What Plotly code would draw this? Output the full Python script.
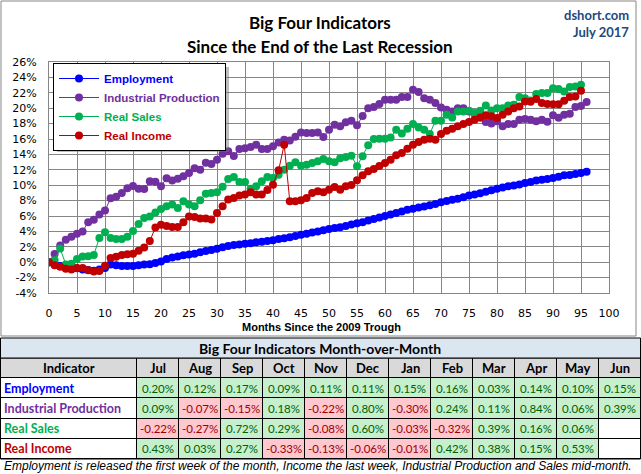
import plotly.graph_objects as go

W, H = 641, 474

# ---------------- data ----------------
employment = [
    0.0, -0.3, -0.5, -0.6, -0.7, -0.8, -0.95, -1.0, -1.1, -0.95,
    -0.75, -0.3, -0.4, -0.5, -0.5, -0.5, -0.4, -0.3, -0.25, -0.1,
    0.1, 0.4, 0.6, 0.75, 0.9, 1.0, 1.1, 1.3, 1.45, 1.6,
    1.75, 1.95, 2.1, 2.25, 2.3, 2.4, 2.45, 2.6, 2.65, 2.75,
    2.85, 3.0, 3.1, 3.25, 3.4, 3.55, 3.7, 3.85, 4.0, 4.15,
    4.3, 4.45, 4.55, 4.7, 4.9, 5.05, 5.2, 5.4, 5.6, 5.8,
    6.0, 6.2, 6.4, 6.6, 6.8, 6.95, 7.1, 7.25, 7.4, 7.55,
    7.8, 7.95, 8.1, 8.25, 8.45, 8.65, 8.8, 8.95, 9.15, 9.35,
    9.55, 9.7, 9.85, 9.95, 10.1, 10.3, 10.42, 10.6, 10.7, 10.82,
    10.95, 11.1, 11.28, 11.31, 11.46, 11.57, 11.74,
]
industrial_production = [
    0.0, 1.08, 2.16, 2.9, 3.3, 3.7, 4.0, 5.2, 5.5, 6.2,
    6.7, 8.3, 8.5, 9.0, 9.6, 9.9, 9.55, 9.5, 10.5, 10.45,
    9.86, 10.9, 10.6, 10.85, 11.15, 11.6, 12.2, 12.0, 12.9, 12.75,
    13.3, 14.1, 14.4, 13.8, 14.7, 14.8, 14.95, 15.25, 14.7, 14.7,
    15.05, 15.56, 15.9, 15.8, 16.3, 16.86, 16.77, 16.77, 16.86, 16.26,
    17.2, 17.86, 17.64, 18.16, 18.37, 17.77, 19.0, 20.0, 20.15, 20.55,
    21.1, 21.1, 21.1, 21.44, 21.44, 22.4, 22.1, 21.3, 21.1, 20.67,
    20.1, 19.8, 19.58, 20.0, 20.0, 19.58, 19.24, 18.8, 18.2, 18.0,
    18.3, 17.64, 17.94, 17.94, 18.5, 18.6, 18.5, 18.3, 18.5, 18.25,
    19.1, 18.75, 19.15, 19.27, 20.15, 20.3, 20.8,
]
real_sales = [
    0.0, 0.26, 1.77, -0.3, -0.2, 0.4, 0.75, 0.78, 0.95, 3.15,
    3.9, 3.15, 3.0, 3.0, 3.3, 4.05, 4.95, 5.75, 5.95, 6.45,
    6.9, 7.26, 7.5, 7.05, 7.9, 7.5, 7.26, 8.04, 8.9, 9.0,
    9.1, 9.8, 10.8, 11.07, 10.4, 10.4, 9.55, 9.86, 10.5, 11.07,
    10.94, 11.37, 12.02, 12.54, 12.97, 12.54, 12.67, 12.88, 13.1, 13.4,
    13.1, 12.97, 13.49, 13.66, 13.83, 12.45, 13.75, 15.2, 16.0, 16.04,
    16.04, 16.2, 17.2, 16.7, 17.34, 17.94, 17.5, 17.2, 16.65, 18.37,
    18.37, 19.15, 18.8, 19.58, 19.58, 19.67, 19.37, 19.67, 20.36, 19.7,
    20.0, 20.0, 20.36, 20.45, 21.44, 21.3, 21.0, 21.83, 21.96, 21.96,
    22.6, 22.5, 22.18, 22.74, 22.83, 23.04,
]
real_income = [
    0.0, -0.4, -0.6, -0.86, -0.95, -0.75, -0.75, -1.05, -1.2, -1.15,
    -0.45, 0.55, 0.7, 0.95, 1.04, 1.1, 1.5, 1.9, 2.75, 4.5,
    4.85, 4.7, 4.58, 4.58, 5.2, 5.95, 5.88, 5.66, 5.66, 5.53,
    6.4, 7.26, 8.13, 8.34, 8.65, 8.78, 9.08, 8.78, 8.78, 9.38,
    10.07, 11.93, 15.26, 7.91, 7.91, 8.04, 8.34, 9.0, 9.2, 9.08,
    9.42, 9.77, 9.42, 9.86, 10.03, 10.64, 11.28, 11.8, 12.1, 12.5,
    12.88, 13.3, 13.88, 14.18, 14.74, 15.26, 15.6, 15.9, 16.04, 15.9,
    16.65, 17.08, 17.34, 17.64, 17.94, 18.2, 18.5, 18.8, 19.1, 18.94,
    18.72, 19.15, 19.58, 20.0, 20.23, 20.88, 20.85, 21.2, 20.67, 20.54,
    20.5, 20.5, 20.97, 21.44, 21.53, 22.27,
]

series_names = ["Employment", "Industrial Production", "Real Sales", "Real Income"]
series_colors = ["#0000FF", "#7030A0", "#00B050", "#C00000"]
series_values = [employment, industrial_production, real_sales, real_income]

table_months = ["Jul", "Aug", "Sep", "Oct", "Nov", "Dec", "Jan", "Feb", "Mar", "Apr", "May", "Jun"]
mom_employment = [0.20, 0.12, 0.17, 0.09, 0.11, 0.11, 0.15, 0.16, 0.03, 0.14, 0.10, 0.15]
mom_ip = [0.09, -0.07, -0.15, 0.18, -0.22, 0.80, -0.30, 0.24, 0.11, 0.84, 0.06, 0.39]
mom_sales = [-0.22, -0.27, 0.72, 0.29, -0.08, 0.60, -0.03, -0.32, 0.39, 0.16, 0.06, None]
mom_income = [0.43, 0.03, 0.27, -0.33, -0.13, -0.06, -0.01, 0.42, 0.38, 0.15, 0.53, None]
mom_rows = [mom_employment, mom_ip, mom_sales, mom_income]

x_ticks = list(range(0, 101, 5))
y_ticks = list(range(-4, 27, 2))

# ---------------- layout helpers ----------------
def px_x(p):
    return p / W


def px_y(p):
    return 1 - p / H


FONT_TICK = "DejaVu Sans"
FONT_CAL = "Lato"
GRID = "#868686"
POS_FILL, NEG_FILL = "#C6EFCE", "#FFC7CE"
POS_FONT, NEG_FONT = "#006100", "#9C0006"
HEAD_FILL = "#D9D9D9"

fig = go.Figure()

for name, color, vals in zip(series_names, series_colors, series_values):
    fig.add_trace(go.Scatter(
        x=list(range(len(vals))), y=vals,
        mode="lines+markers",
        name=f"<span style='color:{color}'><b>{name}</b></span>",
        line=dict(color=color, width=1),
        marker=dict(color=color, size=8),
        xaxis="x", yaxis="y",
    ))

# ---------------- table as a heatmap on its own axes ----------------
col_widths = [137] + [42] * len(table_months)
x_edges = [0]
for w in col_widths:
    x_edges.append(x_edges[-1] + w)
n_rows = 1 + len(series_names)
y_edges = list(range(n_rows + 1))

# codes: 0 white, 1 positive, 2 negative, 3 header
z = [[3] * len(col_widths)]
for row in mom_rows:
    z.append([0] + [0 if v is None else (1 if v >= 0 else 2) for v in row])

fig.add_trace(go.Heatmap(
    x=x_edges, y=y_edges, z=z, zmin=0, zmax=3,
    colorscale=[[0, "white"], [1 / 6, "white"], [1 / 6, POS_FILL], [0.5, POS_FILL],
                [0.5, NEG_FILL], [5 / 6, NEG_FILL], [5 / 6, HEAD_FILL], [1, HEAD_FILL]],
    showscale=False, xgap=1, ygap=1, hoverinfo="skip",
    xaxis="x2", yaxis="y2",
))

annotations = []
centers = [(x_edges[j] + x_edges[j + 1]) / 2 for j in range(len(col_widths))]
# header row
annotations.append(dict(text="<b>Indicator</b>", x=centers[0], y=0.5, xref="x2", yref="y2",
                        showarrow=False, font=dict(family=FONT_CAL, size=13, color="black")))
for j, m in enumerate(table_months):
    annotations.append(dict(text=f"<b>{m}</b>", x=centers[j + 1], y=0.5, xref="x2", yref="y2",
                            showarrow=False, font=dict(family=FONT_CAL, size=13, color="black")))
for i, (name, color, row) in enumerate(zip(series_names, series_colors, mom_rows)):
    annotations.append(dict(text=f"<b>{name}</b>", x=x_edges[0] + 2, y=i + 1.5, xref="x2", yref="y2",
                            xanchor="left", showarrow=False,
                            font=dict(family=FONT_CAL, size=12.5, color=color)))
    for j, v in enumerate(row):
        if v is None:
            continue
        annotations.append(dict(text=f"{v:.2f}%", x=centers[j + 1], y=i + 1.5, xref="x2", yref="y2",
                                showarrow=False,
                                font=dict(family=FONT_CAL, size=11.5,
                                          color=POS_FONT if v >= 0 else NEG_FONT)))

TABLE_TOP, TABLE_BOT = 358, 459

shapes = [
    # outer chart frame
    dict(type="rect", xref="paper", yref="paper",
         x0=px_x(1), x1=px_x(636), y0=px_y(336), y1=px_y(1),
         line=dict(color=GRID, width=1), fillcolor="rgba(0,0,0,0)", layer="below"),
    # black backing for table cell borders
    dict(type="rect", xref="paper", yref="paper",
         x0=0, x1=1, y0=px_y(TABLE_BOT), y1=px_y(TABLE_TOP),
         line=dict(width=0), fillcolor="black", layer="below"),
    # table outline
    dict(type="rect", xref="paper", yref="paper",
         x0=px_x(0.5), x1=px_x(640.5), y0=px_y(TABLE_BOT), y1=px_y(TABLE_TOP),
         line=dict(color="black", width=1), fillcolor="rgba(0,0,0,0)", layer="above"),
    # table title row
    dict(type="rect", xref="paper", yref="paper",
         x0=px_x(0.5), x1=px_x(640.5), y0=px_y(TABLE_TOP), y1=px_y(338),
         line=dict(color="black", width=1), fillcolor="#DCE6F1", layer="above"),
    # legend shadow
    dict(type="rect", xref="paper", yref="paper",
         x0=px_x(57), x1=px_x(229), y0=px_y(152), y1=px_y(67),
         line=dict(width=0), fillcolor="rgba(110,110,110,0.45)", layer="above"),
]

annotations += [
    dict(text="<b>Big Four Indicators</b>", x=px_x(320), y=px_y(23), xref="paper", yref="paper",
         showarrow=False, xanchor="center", yanchor="middle",
         font=dict(family=FONT_CAL, size=17, color="black")),
    dict(text="<b>Since the End of the Last Recession</b>", x=px_x(320), y=px_y(46), xref="paper", yref="paper",
         showarrow=False, xanchor="center", yanchor="middle",
         font=dict(family=FONT_CAL, size=17, color="black")),
    dict(text="<b>dshort.com</b>", x=px_x(631), y=px_y(15), xref="paper", yref="paper",
         showarrow=False, xanchor="right", yanchor="middle",
         font=dict(family=FONT_CAL, size=13, color="#1F497D")),
    dict(text="<b>July 2017</b>", x=px_x(631), y=px_y(32), xref="paper", yref="paper",
         showarrow=False, xanchor="right", yanchor="middle",
         font=dict(family=FONT_CAL, size=13, color="#1F497D")),
    dict(text="<b>Months Since the 2009 Trough</b>", x=px_x(322), y=px_y(327), xref="paper", yref="paper",
         showarrow=False, xanchor="center", yanchor="middle",
         font=dict(family="Liberation Sans", size=11, color="black")),
    dict(text="<b>Big Four Indicators Month-over-Month</b>", x=px_x(320), y=px_y(348), xref="paper", yref="paper",
         showarrow=False, xanchor="center", yanchor="middle",
         font=dict(family=FONT_CAL, size=14, color="black")),
    dict(text="<i>Employment is released the first week of the month, Income the last week, Industrial Production and Sales mid-month.</i>",
         x=px_x(2), y=px_y(466), xref="paper", yref="paper",
         showarrow=False, xanchor="left", yanchor="middle",
         font=dict(family="Liberation Sans", size=12, color="black")),
]

fig.update_layout(
    template="none",
    width=W, height=H,
    margin=dict(l=0, r=0, t=0, b=0, pad=0, autoexpand=False),
    paper_bgcolor="white", plot_bgcolor="white",
    font=dict(family=FONT_TICK, size=11, color="black"),
    showlegend=True,
    legend=dict(
        x=px_x(53), y=px_y(63), xanchor="left", yanchor="top",
        bgcolor="white", bordercolor="black", borderwidth=1,
        font=dict(family="Liberation Sans", size=11.5),
        itemwidth=40, tracegroupgap=0,
    ),
    xaxis=dict(
        domain=[px_x(49), px_x(609)], range=[0, 100],
        tickmode="array", tickvals=x_ticks, ticktext=[str(t) for t in x_ticks],
        showgrid=True, gridcolor=GRID, gridwidth=1,
        showline=True, linecolor=GRID, linewidth=1, mirror=True,
        zeroline=False, ticks="", ticklabelstandoff=10, automargin=False,
        tickfont=dict(family=FONT_TICK, size=11, color="black"),
        anchor="y",
    ),
    yaxis=dict(
        domain=[px_y(293), px_y(62)], range=[-4, 26],
        tickmode="array", tickvals=y_ticks, ticktext=[f"{t}%" for t in y_ticks],
        showgrid=True, gridcolor=GRID, gridwidth=1,
        showline=True, linecolor=GRID, linewidth=1, mirror=True,
        zeroline=False, ticks="", ticklabelstandoff=9, automargin=False,
        tickfont=dict(family=FONT_TICK, size=11, color="black"),
        anchor="x",
    ),
    xaxis2=dict(
        domain=[0, 1], range=[x_edges[0], x_edges[-1]], visible=False,
        showgrid=False, zeroline=False, automargin=False, anchor="y2", fixedrange=True,
    ),
    yaxis2=dict(
        domain=[px_y(TABLE_BOT), px_y(TABLE_TOP)], range=[y_edges[-1], y_edges[0]], visible=False,
        showgrid=False, zeroline=False, automargin=False, anchor="x2", fixedrange=True,
    ),
    shapes=shapes,
    annotations=annotations,
)

fig.write_html(
    "out.html",
    config=dict(displayModeBar=False),
    post_script="document.body.style.margin='0px';document.body.style.overflow='hidden';",
)
